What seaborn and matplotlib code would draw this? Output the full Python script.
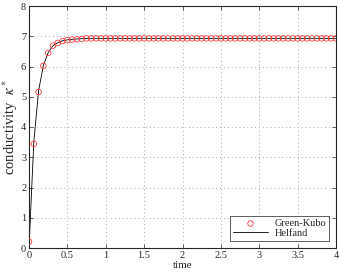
import numpy as np
import pandas as pd
import matplotlib
matplotlib.use("Agg")
import matplotlib.pyplot as plt
import seaborn as sns

# sample times (step 1/16)
time = np.arange(0, 65) * 0.0625

# Green-Kubo values
green_kubo = [0.21, 3.44, 5.16, 6.02, 6.45, 6.69, 6.78, 6.84, 6.87, 6.89, 6.90, 6.91] + [6.93] * 53
# Helfand curve, starts from zero
helfand = [0.0, 3.50, 5.20, 6.04, 6.46, 6.69, 6.79, 6.85, 6.88, 6.90, 6.91, 6.92] + [6.93] * 53

df = pd.DataFrame({'time': time, 'gk': green_kubo, 'hf': helfand})

sns.set_style("ticks")
plt.rcParams['font.family'] = ['Liberation Serif', 'DejaVu Serif']
plt.rcParams['mathtext.fontset'] = 'stix'
plt.rcParams['xtick.direction'] = 'in'
plt.rcParams['ytick.direction'] = 'in'

fig = plt.figure(figsize=(3.39, 2.77), dpi=100)
ax = fig.add_axes([29 / 339, 1 - 248 / 277, 307 / 339, 242 / 277])

sns.scatterplot(data=df, x='time', y='gk', ax=ax, marker='o', s=16,
                facecolor='none', edgecolor='#ff3b3b', linewidth=0.6,
                label='Green-Kubo', zorder=3)
sns.lineplot(data=df, x='time', y='hf', ax=ax, color='black', linewidth=0.6,
             label='Helfand', zorder=2)

ax.set_xlim(0, 4)
ax.set_ylim(0, 8)
ax.set_xticks(np.arange(0, 4.01, 0.5))
ax.set_xticklabels(['0', '0.5', '1', '1.5', '2', '2.5', '3', '3.5', '4'])
ax.set_yticks(range(0, 9))
ax.tick_params(labelsize=7.5, length=3, width=0.5, top=True, right=True, pad=2)
ax.grid(True, linestyle=(0, (1, 3)), color='#aaaaaa', linewidth=0.7)
for s in ax.spines.values():
    s.set_linewidth(0.8)
    s.set_visible(True)

ax.set_xlabel('time', fontsize=8, labelpad=1)
ax.set_ylabel(r'conductivity  $\kappa^*$', fontsize=10.5, labelpad=1)

leg = ax.legend(loc='lower right', fontsize=7.5, frameon=True, fancybox=False,
                edgecolor='#444444', framealpha=1, borderpad=0.25, handlelength=3.4,
                labelspacing=0.05, handletextpad=0.6, borderaxespad=0.7)
leg.get_frame().set_linewidth(0.6)

fig.savefig('out.png', dpi=100)
